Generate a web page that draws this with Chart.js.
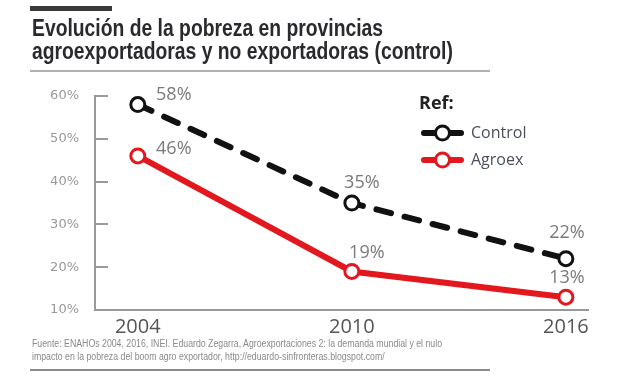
<!DOCTYPE html>
<html>
<head>
<meta charset="utf-8">
<script src="https://cdn.jsdelivr.net/npm/chart.js@4.4.1/dist/chart.umd.min.js"></script>
<style>
  body { margin: 0; background: #fff; }
  #wrap { position: relative; width: 640px; height: 376px; overflow: hidden; }
  #chart { position: absolute; left: 0; top: 0; }
  .bar { position: absolute; left: 30px; top: 6px; width: 82px; height: 5px; background: #3a3a3a; }
  .title {
    position: absolute; left: 32px; top: 17px; margin: 0; white-space: nowrap;
    font: bold 23px/23px "Liberation Sans", sans-serif;
    color: #2a2a2e;
    transform: scaleX(0.84); transform-origin: 0 0;
  }
  .rule { position: absolute; left: 30px; width: 460px; height: 2px; background: #b0b0b0; }
  .source {
    position: absolute; left: 32px; top: 337px; margin: 0; white-space: nowrap;
    font: 10px/13px "Liberation Sans", sans-serif;
    color: #8a8a8a;
    transform: scaleX(0.875); transform-origin: 0 0;
  }
</style>
</head>
<body>
<div id="wrap">
  <canvas id="chart" width="640" height="376"></canvas>
  <div class="bar"></div>
  <h1 class="title">Evolución de la pobreza en provincias<br>agroexportadoras y no exportadoras (control)</h1>
  <div class="rule" style="top:70px"></div>
  <p class="source">Fuente: ENAHOs 2004, 2016, INEI. Eduardo Zegarra, Agroexportaciones 2: la demanda mundial y el nulo<br>impacto en la pobreza del boom agro exportador, http://eduardo-sinfronteras.blogspot.com/</p>
  <div class="rule" style="top:369px; background:#8a8a8a"></div>
</div>
<script>
// Datos
const years = [2004, 2010, 2016];
const control = [58, 35, 22];
const agroex = [46, 19, 13];
const yTicks = [10, 20, 30, 40, 50, 60];

const RED = '#e3171e';
const BLACK = '#111111';

// etiquetas de valor (desplazamiento respecto al punto)
const labelOffsets = {
  0: [[36, -10], [10, -20], [1, -26]],
  1: [[36, -7], [15, -19], [1, -19]]
};

const valueLabels = {
  id: 'valueLabels',
  afterDatasetsDraw(chart) {
    const ctx = chart.ctx;
    ctx.save();
    ctx.font = '18px "Open Sans", sans-serif';
    ctx.fillStyle = '#7a7a7a';
    ctx.textAlign = 'center';
    ctx.textBaseline = 'middle';
    chart.data.datasets.forEach((ds, i) => {
      chart.getDatasetMeta(i).data.forEach((pt, j) => {
        const off = labelOffsets[i][j];
        ctx.fillText(ds.data[j].y + '%', pt.x + off[0], pt.y + off[1]);
      });
    });
    ctx.restore();
  }
};

// marcas del eje y hacia dentro + leyenda
const extras = {
  id: 'extras',
  beforeDatasetsDraw(chart) {
    const ctx = chart.ctx;
    const y = chart.scales.y;
    const area = chart.chartArea;
    ctx.save();
    ctx.strokeStyle = '#999';
    ctx.lineWidth = 2;
    yTicks.forEach(v => {
      const py = Math.round(y.getPixelForValue(v));
      ctx.beginPath();
      ctx.moveTo(area.left, py);
      ctx.lineTo(area.left + 13, py);
      ctx.stroke();
    });
    ctx.restore();
  },
  afterDraw(chart) {
    const ctx = chart.ctx;
    ctx.save();
    ctx.fillStyle = '#222';
    ctx.font = 'bold 18px "Open Sans", sans-serif';
    ctx.textBaseline = 'middle';
    ctx.fillText('Ref:', 419, 104);
    const items = [
      { text: 'Control', color: BLACK, y: 133 },
      { text: 'Agroex', color: RED, y: 160 }
    ];
    items.forEach(it => {
      ctx.strokeStyle = it.color;
      ctx.lineWidth = 6;
      ctx.lineCap = 'round';
      ctx.beginPath();
      ctx.moveTo(424, it.y);
      ctx.lineTo(461, it.y);
      ctx.stroke();
      ctx.beginPath();
      ctx.arc(442.5, it.y, 7, 0, Math.PI * 2);
      ctx.fillStyle = '#fff';
      ctx.fill();
      ctx.lineWidth = 3;
      ctx.stroke();
      ctx.fillStyle = '#4a4f5c';
      ctx.font = '16px "Open Sans", sans-serif';
      ctx.fillText(it.text, 471, it.y);
    });
    ctx.restore();
  }
};

const toPoints = arr => arr.map((v, i) => ({ x: years[i], y: v }));

new Chart(document.getElementById('chart').getContext('2d'), {
  type: 'line',
  data: {
    datasets: [{
      label: 'Control',
      data: toPoints(control),
      borderColor: BLACK,
      borderWidth: 6,
      borderDash: [15, 14],
      borderCapStyle: 'round',
      pointRadius: 7,
      pointBorderWidth: 3,
      pointBackgroundColor: '#fff',
      pointBorderColor: BLACK,
      tension: 0
    }, {
      label: 'Agroex',
      data: toPoints(agroex),
      borderColor: RED,
      borderWidth: 6,
      pointRadius: 7,
      pointBorderWidth: 3,
      pointBackgroundColor: '#fff',
      pointBorderColor: RED,
      tension: 0
    }]
  },
  options: {
    responsive: false,
    animation: false,
    layout: { padding: { left: 0, right: 52, top: 96, bottom: 0 } },
    plugins: { legend: { display: false }, tooltip: { enabled: false } },
    scales: {
      x: {
        type: 'linear',
        min: 2002.8,
        max: 2016.62,
        afterBuildTicks: s => { s.ticks = years.map(v => ({ value: v })); },
        afterFit: s => { s.height = 66; },
        grid: { display: false, drawTicks: false },
        border: { display: true, color: '#999', width: 2 },
        ticks: {
          padding: 5,
          color: '#555',
          font: { family: '"Open Sans", sans-serif', size: 20 },
          callback: v => String(v)
        }
      },
      y: {
        min: 10,
        max: 60,
        afterBuildTicks: s => { s.ticks = yTicks.map(v => ({ value: v })); },
        afterFit: s => { s.width = 95; },
        grid: { display: false, drawTicks: false },
        border: { display: true, color: '#999', width: 2 },
        ticks: {
          padding: 16,
          color: '#999',
          font: { family: '"DejaVu Sans", sans-serif', size: 13 },
          callback: v => v + '%'
        }
      }
    }
  },
  plugins: [valueLabels, extras]
});
</script>
</body>
</html>
